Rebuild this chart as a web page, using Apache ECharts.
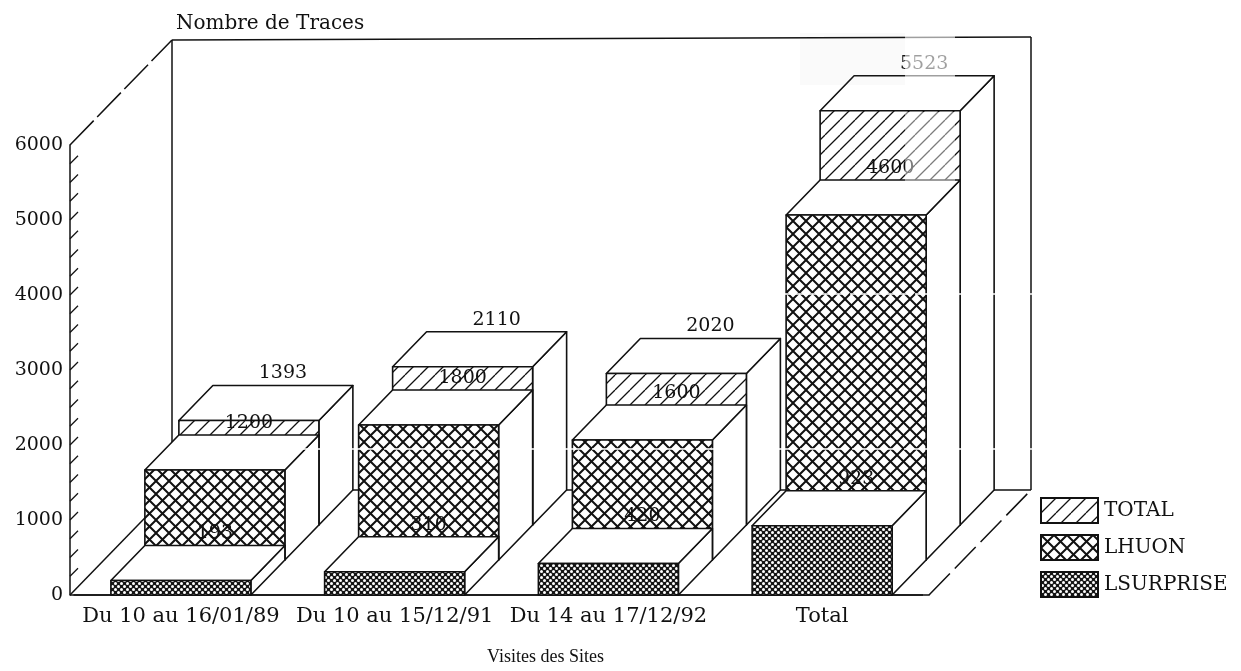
<!DOCTYPE html>
<html><head><meta charset="utf-8">
<style>html,body{margin:0;padding:0;background:#fff}#c{width:1241px;height:671px}</style>
<script src="https://cdn.jsdelivr.net/npm/echarts@6/dist/echarts.min.js"></script>
</head><body><div id="c"></div>
<script>
const categories = ['Du 10 au 16/01/89','Du 10 au 15/12/91','Du 14 au 17/12/92','Total'];
const total = [1393,2110,2020,5523];
const lhuon = [1200,1800,1600,4600];
const lsurprise = [193,310,420,923];
const yTicks = [250,500,750,1000,1250,1500,1750,2000,2250,2500,2750,3000,3250,3500,3750,4000,4250,4500,4750,5000,5250,5500,5750];
const FONT = '"DejaVu Serif"', SIZE = 19, INK = '#111';
const DX = 34, DY = 35, BAR = 0.655;

function tile(size, draw){
  const c = document.createElement('canvas'); c.width = c.height = size;
  const g = c.getContext('2d'); draw(g, size);
  return {image:c, repeat:'repeat'};
}
function diag(g,s,up){
  g.beginPath();
  for (const o of [-s,0,s]) {
    if (up){ g.moveTo(o,s); g.lineTo(o+s,0); } else { g.moveTo(o,0); g.lineTo(o+s,s); }
  }
  g.stroke();
}
const hatch = tile(15,(g,s)=>{g.fillStyle='#fff';g.fillRect(0,0,s,s);g.strokeStyle='#111';g.lineWidth=1.3;diag(g,s,true);});
const cross = tile(13,(g,s)=>{g.fillStyle='#fff';g.fillRect(0,0,s,s);g.strokeStyle='#111';g.lineWidth=2;diag(g,s,true);diag(g,s,false);});
const dots = tile(6,(g,s)=>{g.fillStyle='#151515';g.fillRect(0,0,s,s);g.fillStyle='#fff';
  for (const p of [[1.5,1.5],[4.5,4.5]]){g.beginPath();g.arc(p[0],p[1],1.5,0,7);g.fill();}});

const boxRender = (row,pattern)=>(params,api)=>{
  const i = api.value(0), v = api.value(1);
  const top = api.coord([i,v]), base = api.coord([i,0]);
  const w = api.size([1,0])[0]*BAR;
  const x = base[0]-w/2+row*DX, yb = base[1]-row*DY, yt = top[1]-row*DY;
  const line = {stroke:INK,lineWidth:1.6,lineJoin:'round'};
  return {type:'group',children:[
    {type:'polygon',shape:{points:[[x+w,yt],[x+w+DX,yt-DY],[x+w+DX,yb-DY],[x+w,yb]]},style:{fill:'#fff',...line}},
    {type:'polygon',shape:{points:[[x,yt],[x+DX,yt-DY],[x+w+DX,yt-DY],[x+w,yt]]},style:{fill:'#fff',...line}},
    {type:'rect',shape:{x:x,y:yt,width:w,height:yb-yt},style:{fill:pattern,...line}},
    {type:'text',style:{text:String(v),x:x+w/2+DX,y:yt-DY-12,fill:INK,font:SIZE+'px '+FONT,textAlign:'center',textVerticalAlign:'middle'}}
  ]};
};
const wallRender = (params,api)=>{
  const cs = params.coordSys, D = [3*DX,3*DY];
  const x0 = cs.x-4, x1 = cs.x+cs.width;
  const y0 = api.coord([0,0])[1], yM = api.coord([0,6000])[1];
  const st = {stroke:INK,lineWidth:1.5,fill:'none'};
  const seg = (a,b,dash)=>({type:'line',shape:{x1:a[0],y1:a[1],x2:b[0],y2:b[1]},style:{...st,lineDash:dash||null}});
  return {type:'group',children:[
    seg([x0,yM],[x0+D[0],yM-D[1]],[34,5]),
    seg([x0+D[0],yM-D[1]],[x0+D[0],y0-D[1]]),
    seg([x0+D[0],yM-D[1]],[x1+D[0],yM-D[1]-3]),
    seg([x1+D[0],yM-D[1]-3],[x1+D[0],y0-D[1]]),
    seg([x0,y0],[x0+D[0],y0-D[1]]),
    seg([x0+D[0],y0-D[1]],[x1+D[0],y0-D[1]]),
    seg([x1,y0],[x1+D[0],y0-D[1]],[30,7]),
    seg([x0,y0],[x1-6,y0])
  ]};
};
const tickRender = (params,api)=>{
  const p = api.coord([0,api.value(1)]), x = params.coordSys.x-4;
  return {type:'line',shape:{x1:x,y1:p[1],x2:x+8,y2:p[1]-8},style:{stroke:INK,lineWidth:1.2}};
};
const box = (name,vals,row,pattern)=>({
  name,type:'custom',coordinateSystem:'cartesian2d',
  itemStyle:{color:pattern,borderColor:INK,borderWidth:1.4},
  encode:{x:0,y:1},data:vals.map((v,i)=>[i,v]),renderItem:boxRender(row,pattern)
});

const chart = echarts.init(document.getElementById('c'),null,{renderer:'canvas'});
chart.setOption({
  animation:false,backgroundColor:'#fff',
  grid:{left:74,top:145,width:855,height:454,containLabel:false},
  legend:{orient:'vertical',left:1035,top:492,itemWidth:57,itemHeight:25,itemGap:10,icon:'rect',
    data:['TOTAL','LHUON','LSURPRISE'],selectedMode:false,
    textStyle:{fontFamily:FONT,fontSize:20,color:INK,padding:[0,0,0,1]}},
  xAxis:{type:'category',data:categories,
    axisLine:{show:true,lineStyle:{color:INK,width:1.5}},axisTick:{show:false},
    axisLabel:{interval:0,margin:11,fontFamily:FONT,fontSize:21,color:INK},
    name:'Visites des Sites',nameLocation:'middle',nameGap:53,
    nameTextStyle:{fontFamily:'"Liberation Serif"',fontSize:18,color:INK,padding:[0,0,0,88]}},
  yAxis:{type:'value',min:0,max:6000,interval:1000,offset:4,
    axisLine:{show:true,lineStyle:{color:INK,width:1.5}},axisTick:{show:false},splitLine:{show:false},
    axisLabel:{margin:7,fontFamily:FONT,fontSize:SIZE,color:INK,formatter:v=>String(v)},
    name:'Nombre de Traces',nameLocation:'end',nameGap:111,
    nameTextStyle:{fontFamily:FONT,fontSize:20,color:INK,align:'left',padding:[0,0,0,106]}},
  series:[
    {name:'wall',type:'custom',coordinateSystem:'cartesian2d',encode:{x:0,y:1},data:[[0,0]],renderItem:wallRender},
    {name:'ticks',type:'custom',coordinateSystem:'cartesian2d',encode:{x:0,y:1},data:yTicks.map(v=>[0,v]),renderItem:tickRender},
    box('TOTAL',total,2,hatch),
    box('LHUON',lhuon,1,cross),
    box('LSURPRISE',lsurprise,0,dots)
  ],
  graphic:[
    {type:'rect',z:100,silent:true,shape:{x:800,y:33,width:105,height:52},style:{fill:'rgba(120,120,120,0.04)'}},
    {type:'rect',z:100,silent:true,shape:{x:905,y:32,width:50,height:48},style:{fill:'rgba(255,255,255,0.6)'}},
    {type:'rect',z:100,silent:true,shape:{x:905,y:112,width:50,height:70},style:{fill:'rgba(255,255,255,0.45)'}},
    {type:'line',z:100,silent:true,shape:{x1:176,y1:449,x2:1032,y2:449},style:{stroke:'#fff',lineWidth:1.5,lineDash:[46,6]}},
    {type:'line',z:100,silent:true,shape:{x1:785,y1:294,x2:1032,y2:294},style:{stroke:'#fff',lineWidth:1.5,lineDash:[60,5]}}
  ]
});
</script></body></html>
